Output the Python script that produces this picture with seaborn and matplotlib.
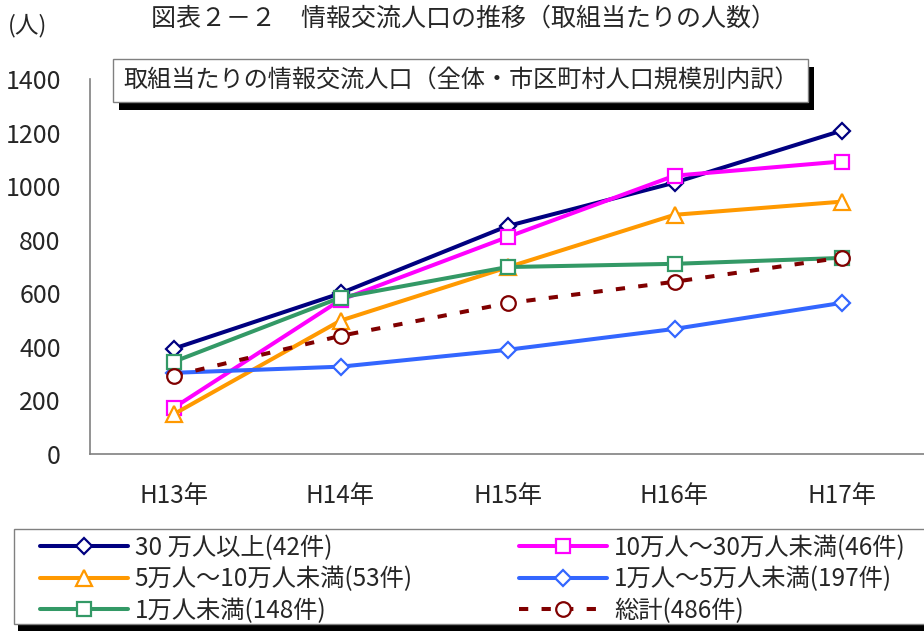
import matplotlib
matplotlib.use("Agg")
import matplotlib.pyplot as plt
from matplotlib.patches import Rectangle
import seaborn as sns
import pandas as pd

# ---- data ----
years = ["H13年", "H14年", "H15年", "H16年", "H17年"]
series_names = [
    "30 万人以上(42件)",
    "10万人～30万人未満(46件)",
    "5万人～10万人未満(53件)",
    "1万人～5万人未満(197件)",
    "1万人未満(148件)",
    "総計(486件)",
]
pop_30man_over = [393, 600, 851, 1013, 1207]
pop_10_30man = [172, 575, 810, 1039, 1092]
pop_5_10man = [148, 498, 697, 893, 942]
pop_1_5man = [303, 326, 389, 467, 564]
pop_1man_under = [344, 584, 698, 710, 732]
pop_total = [292, 441, 563, 643, 733]
series_values = [pop_30man_over, pop_10_30man, pop_5_10man,
                 pop_1_5man, pop_1man_under, pop_total]
y_ticks = [0, 200, 400, 600, 800, 1000, 1200, 1400]

title_text = "図表２－２　情報交流人口の推移（取組当たりの人数）"
box_text = "取組当たりの情報交流人口（全体・市区町村人口規模別内訳）"
unit_text = "(人)"

# ---- styles ----
colors = ["#000080", "#FF00FF", "#FF9900", "#3366FF", "#339966", "#800000"]
markers = ["D", "s", "^", "D", "s", "o"]
msizes = [8.2, 10, 11, 8.2, 10, 10.5]
styles = ["-", "-", "-", "-", "-", (0, (2.3, 3.3))]

sns.set_style("white")
plt.rcParams["font.family"] = ["Noto Sans CJK JP", "DejaVu Sans"]

W, H = 924, 631
fig = plt.figure(figsize=(W / 100, H / 100), dpi=100)
fig.patch.set_facecolor("white")


def fx(px):
    return px / W


def fy(py):
    return 1 - py / H


ax = fig.add_axes([fx(90), fy(454), fx(925) - fx(90), fy(79) - fy(454)])

for name, vals, c, m, ms, ls in zip(series_names, series_values, colors,
                                    markers, msizes, styles):
    df = pd.DataFrame({"year": years, "value": vals})
    sns.lineplot(data=df, x="year", y="value", ax=ax, color=c, marker=m,
                 markersize=ms, markerfacecolor="white", markeredgecolor=c,
                 markeredgewidth=1.6, linewidth=2.9, linestyle=ls,
                 label=name, errorbar=None, sort=False)

ax.set_xlim(-0.5, 4.5)
ax.set_ylim(0, 1400)
ax.set_yticks(y_ticks)
ax.set_yticklabels([str(v) for v in y_ticks])
ax.set_xticks(range(len(years)))
ax.set_xticklabels(years)
ax.set_xticks([i + 0.5 for i in range(-1, len(years))], minor=True)
ax.tick_params(axis="x", which="major", length=0, pad=21, labelsize=17.5)
ax.tick_params(axis="x", which="minor", length=5, direction="in",
               color="#808080", width=1)
ax.tick_params(axis="y", which="major", length=5, direction="in",
               color="#808080", width=1, pad=21, labelsize=18)
ax.set_xlabel("")
ax.set_ylabel("")
for side in ["top", "right"]:
    ax.spines[side].set_visible(False)
for side in ["left", "bottom"]:
    ax.spines[side].set_color("#808080")
    ax.spines[side].set_linewidth(1.2)
ax.get_legend().remove()

# titles
fig.text(fx(463), fy(19), title_text, ha="center", va="center", fontsize=18)
fig.text(fx(8), fy(26), unit_text, ha="left", va="center", fontsize=17)

# framed caption with a solid shadow
fig.patches.append(Rectangle((fx(119), fy(110)), fx(814) - fx(119),
                             fy(67) - fy(110), transform=fig.transFigure,
                             facecolor="black", edgecolor="none", zorder=2))
fig.patches.append(Rectangle((fx(113), fy(102)), fx(808) - fx(113),
                             fy(59) - fy(102), transform=fig.transFigure,
                             facecolor="white", edgecolor="#808080",
                             linewidth=1, zorder=2.5))
fig.text(fx(461), fy(81), box_text, ha="center", va="center", fontsize=17.4,
         zorder=3)

# legend frame with a solid shadow underneath
fig.patches.append(Rectangle((fx(18), fy(632)), fx(940) - fx(18),
                             fy(536) - fy(632), transform=fig.transFigure,
                             facecolor="black", edgecolor="none", zorder=4))
fig.patches.append(Rectangle((fx(14), fy(624)), fx(940) - fx(14),
                             fy(529) - fy(624), transform=fig.transFigure,
                             facecolor="white", edgecolor="#808080",
                             linewidth=1, zorder=4.5))

# legend entries, filled row by row
handles, labels = ax.get_legend_handles_labels()
order = [0, 2, 4, 1, 3, 5]
leg = fig.legend([handles[i] for i in order], [labels[i] for i in order],
                 loc="upper left",
                 bbox_to_anchor=(fx(40), fy(535), fx(906) - fx(40), 0),
                 mode="expand", ncol=2, borderaxespad=0, frameon=False,
                 fontsize=17.5, handlelength=3.6, handletextpad=0.3,
                 labelspacing=0.22, borderpad=0, numpoints=1)
leg.set_zorder(5)

fig.savefig("out.png", dpi=100, facecolor="white")
